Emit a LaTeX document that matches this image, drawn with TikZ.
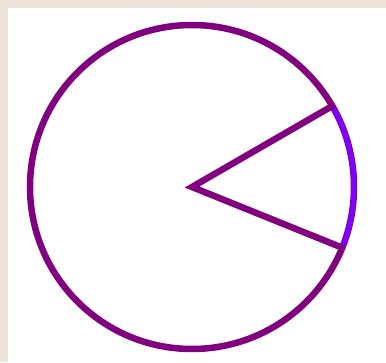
\documentclass[tikz,border=0pt]{standalone}
\usepackage{tikz}
\definecolor{paper}{HTML}{EEE4DA}
\definecolor{rim}{HTML}{800080}
\definecolor{arcviolet}{HTML}{8000FF}

\begin{document}
\begin{tikzpicture}[x=1pt,y=-1pt,line width=6.5pt]
        \fill[paper] (0,0) rectangle (386,362);
        \fill[white] (8,8) rectangle (386,362);
        \useasboundingbox (0,0) rectangle (386,362);
        \coordinate (centre) at (192,187);
        \coordinate (upper) at ([shift={(-30:162)}]centre);
        \coordinate (lower) at ([shift={(22:162)}]centre);
        \draw[rim] (centre) circle[radius=162];
        \draw[arcviolet,line width=5pt] (upper) arc[start angle=-30,end angle=22,radius=162];
        \draw[rim,line join=miter,line cap=round] (upper) -- (centre) -- (lower);
      \end{tikzpicture}
\end{document}
